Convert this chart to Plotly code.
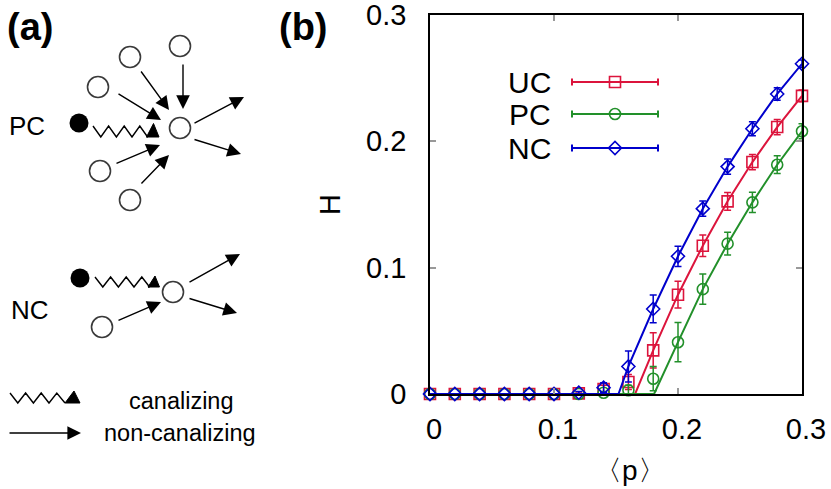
import plotly.graph_objects as go

W, H = 831, 489

# ---------------- data (panel b) ----------------
p = [0.00, 0.02, 0.04, 0.06, 0.08, 0.10, 0.12, 0.14, 0.16, 0.18, 0.20, 0.22, 0.24, 0.26, 0.28, 0.30]
uc = [0, 0, 0, 0, 0, 0, 0.0005, 0.004, 0.0095, 0.0345, 0.0786, 0.1174, 0.1525, 0.1836, 0.2113, 0.236]
uc_err = [0, 0, 0, 0, 0, 0, 0.001, 0.003, 0.006, 0.014, 0.0106, 0.0085, 0.007, 0.006, 0.006, 0.0046]
pc = [0, 0, 0, 0, 0, 0, 0, 0.001, 0.003, 0.0121, 0.041, 0.083, 0.119, 0.1517, 0.1815, 0.208]
pc_err = [0, 0, 0, 0, 0, 0, 0, 0.001, 0.004, 0.0096, 0.0155, 0.012, 0.009, 0.008, 0.007, 0.006]
nc = [0, 0, 0, 0, 0, 0, 0.001, 0.005, 0.0218, 0.0673, 0.109, 0.1467, 0.180, 0.210, 0.2375, 0.2614]
nc_err = [0, 0, 0, 0, 0, 0, 0.001, 0.004, 0.0123, 0.011, 0.008, 0.006, 0.006, 0.0055, 0.005, 0.003]

uc_fit_p = [0.0, 0.1654, 0.18, 0.20, 0.22, 0.24, 0.26, 0.28, 0.30]
uc_fit = [0, 0, 0.0345, 0.0786, 0.1174, 0.1525, 0.1836, 0.2113, 0.236]
pc_fit_p = [0.0, 0.1807, 0.20, 0.22, 0.24, 0.26, 0.28, 0.30]
pc_fit = [0, 0, 0.041, 0.083, 0.119, 0.1517, 0.1815, 0.208]
nc_fit_p = [0.0, 0.152, 0.16, 0.18, 0.20, 0.22, 0.24, 0.26, 0.28, 0.30]
nc_fit = [0, 0, 0.0218, 0.0673, 0.109, 0.1467, 0.180, 0.210, 0.2375, 0.2614]

series_names = ["UC", "PC", "NC"]
series_colors = ["#dc143c", "#22902a", "#0000cc"]
series_symbols = ["square-open", "circle-open", "diamond-open"]
series_sizes = [11, 11, 10]

x_ticks = [0, 0.1, 0.2, 0.3]
x_tick_labels = ["0", "0.1", "0.2", "0.3"]
y_ticks = [0, 0.1, 0.2, 0.3]
y_tick_labels = ["0", "0.1", "0.2", "0.3"]

# ---------------- diagram (panel a), pixel coordinates ----------------
pc_dot = (79, 123)
pc_center = (180, 128)
pc_inputs = [(98, 87), (130, 57), (180, 46), (100, 171), (130, 200)]
pc_in_arrows = [((117, 93), (161, 120)), ((140, 70), (169, 110)), ((183, 63), (183, 109)),
                ((115, 164), (160, 145)), ((140, 185), (169, 155))]
pc_out_arrows = [((193, 124), (244, 97)), ((193, 139), (241, 154))]
# canalizing symbol: start x, half-period, top y, bottom y, number of strokes, triangle
pc_zig = dict(x0=93, step=7.8, top=126, bot=137, n=7,
              tri=[(146.5, 137), (159, 137), (153.5, 123.5)])

nc_dot = (80, 278)
nc_center = (173, 292)
nc_inputs = [(102, 327)]
nc_in_arrows = [((117, 321), (161, 302))]
nc_out_arrows = [((188, 283), (240, 254)), ((188, 298), (237, 313))]
nc_zig = dict(x0=95, step=7.8, top=277, bot=287, n=7,
              tri=[(148, 287), (159.5, 287), (155, 276)])

leg_zig = dict(x0=10, step=7.8, top=393, bot=403, n=7,
               tri=[(65, 403), (80, 403), (74, 391)])
leg_arrow = ((8, 433), (81, 433))

FONT = "Liberation Sans, Arial, Helvetica, sans-serif"

fig = go.Figure()

fits = [(uc_fit_p, uc_fit), (pc_fit_p, pc_fit), (nc_fit_p, nc_fit)]
vals = [(uc, uc_err), (pc, pc_err), (nc, nc_err)]
for i in range(3):
    col = series_colors[i]
    fig.add_trace(go.Scatter(x=p, y=vals[i][0], mode="markers",
                             marker=dict(symbol=series_symbols[i], size=series_sizes[i], color=col,
                                         line=dict(width=1.6, color=col)),
                             error_y=dict(type="data", array=vals[i][1], visible=True,
                                          color=col, thickness=1.5, width=3.5),
                             cliponaxis=False, showlegend=False, xaxis="x", yaxis="y"))
    fig.add_trace(go.Scatter(x=fits[i][0], y=fits[i][1], mode="lines",
                             line=dict(color=col, width=2), showlegend=False,
                             cliponaxis=False, xaxis="x", yaxis="y"))

# legend samples (overlay, pixel coordinates)
leg_y = [82, 114, 148]
leg_cx = 615
leg_half = 43
leg_text_x = 553
for i in range(3):
    col = series_colors[i]
    fig.add_trace(go.Scatter(x=[leg_cx], y=[leg_y[i]], mode="markers",
                             marker=dict(symbol=series_symbols[i], size=series_sizes[i], color=col,
                                         line=dict(width=1.6, color=col)),
                             error_x=dict(type="constant", value=leg_half, color=col,
                                          thickness=2, width=3.5),
                             showlegend=False, xaxis="x2", yaxis="y2"))

# canalizing symbols: zigzag + filled triangle
for z in (pc_zig, nc_zig, leg_zig):
    xs = [z["x0"] + z["step"] * k for k in range(z["n"] + 1)]
    ys = [z["top"] if k % 2 == 0 else z["bot"] for k in range(z["n"] + 1)]
    xs.append(z["tri"][0][0]); ys.append(z["tri"][0][1])
    fig.add_trace(go.Scatter(x=xs, y=ys, mode="lines", line=dict(color="black", width=1.4),
                             showlegend=False, xaxis="x2", yaxis="y2"))
    tx = [v[0] for v in z["tri"]] + [z["tri"][0][0]]
    ty = [v[1] for v in z["tri"]] + [z["tri"][0][1]]
    fig.add_trace(go.Scatter(x=tx, y=ty, mode="lines", fill="toself", fillcolor="black",
                             line=dict(color="black", width=1), showlegend=False,
                             xaxis="x2", yaxis="y2"))

fig.add_trace(go.Scatter(x=[pc_dot[0], nc_dot[0]], y=[pc_dot[1], nc_dot[1]], mode="markers",
                         marker=dict(size=19, color="black"), showlegend=False,
                         xaxis="x2", yaxis="y2"))
open_nodes = [pc_center] + pc_inputs + [nc_center] + nc_inputs
fig.add_trace(go.Scatter(x=[n[0] for n in open_nodes], y=[n[1] for n in open_nodes], mode="markers",
                         marker=dict(size=21, color="white", line=dict(color="#3a3a3a", width=1.6)),
                         showlegend=False, xaxis="x2", yaxis="y2"))

annotations = []


def arrow(tail, tip):
    annotations.append(dict(x=tip[0], y=tip[1], ax=tail[0], ay=tail[1], xref="x2", yref="y2",
                            axref="x2", ayref="y2", text="", showarrow=True, arrowhead=2,
                            arrowsize=1.95, arrowwidth=1.4, arrowcolor="black", standoff=0,
                            startstandoff=0))


for a in pc_in_arrows + pc_out_arrows + nc_in_arrows + nc_out_arrows:
    arrow(a[0], a[1])
arrow(leg_arrow[0], leg_arrow[1])


def label(x, y, text, size, bold=False, xanchor="center", angle=0):
    annotations.append(dict(x=x, y=y, xref="x2", yref="y2", text=("<b>%s</b>" % text) if bold else text,
                            showarrow=False, xanchor=xanchor, yanchor="middle", textangle=angle,
                            font=dict(family=FONT, size=size, color="black")))


label(30, 27, "(a)", 38, bold=True)
label(303, 27, "(b)", 38, bold=True)
label(27, 126, "PC", 26)
label(30, 310, "NC", 26)
label(181, 401, "canalizing", 23.5)
label(180, 433, "non-canalizing", 23.5)
label(330, 205, "H", 29, angle=-90)
label(630, 470, "〈p〉", 28)
for i in range(3):
    label(leg_text_x, leg_y[i], series_names[i], 30, xanchor="right")

axis_common = dict(showline=True, linecolor="black", linewidth=1.5, mirror="allticks",
                   ticks="inside", ticklen=6, tickcolor="#999999", tickwidth=1.5,
                   showgrid=False, zeroline=False, automargin=False, ticklabeloverflow="allow",
                   tickfont=dict(family=FONT, size=29, color="black"))

fig.update_layout(
    width=W, height=H,
    margin=dict(l=0, r=0, t=0, b=0),
    paper_bgcolor="white", plot_bgcolor="rgba(0,0,0,0)",
    template="none",
    xaxis=dict(domain=[430 / W, 802 / W], range=[0, 0.3], tickvals=x_ticks, ticktext=x_tick_labels,
               anchor="y", ticklabelstandoff=8, ticklabelshift=4, **axis_common),
    yaxis=dict(domain=[1 - 394 / H, 1 - 15 / H], range=[0, 0.3], tickvals=y_ticks, ticktext=y_tick_labels,
               anchor="x", ticklabelstandoff=16, **axis_common),
    xaxis2=dict(domain=[0, 1], range=[0, W], visible=False, anchor="y2", fixedrange=True),
    yaxis2=dict(domain=[0, 1], range=[H, 0], visible=False, anchor="x2", fixedrange=True),
    annotations=annotations,
    showlegend=False,
)

fig.write_html("out.html", config={"displayModeBar": False},
               post_script="document.body.style.margin='0';document.body.style.padding='0';")
